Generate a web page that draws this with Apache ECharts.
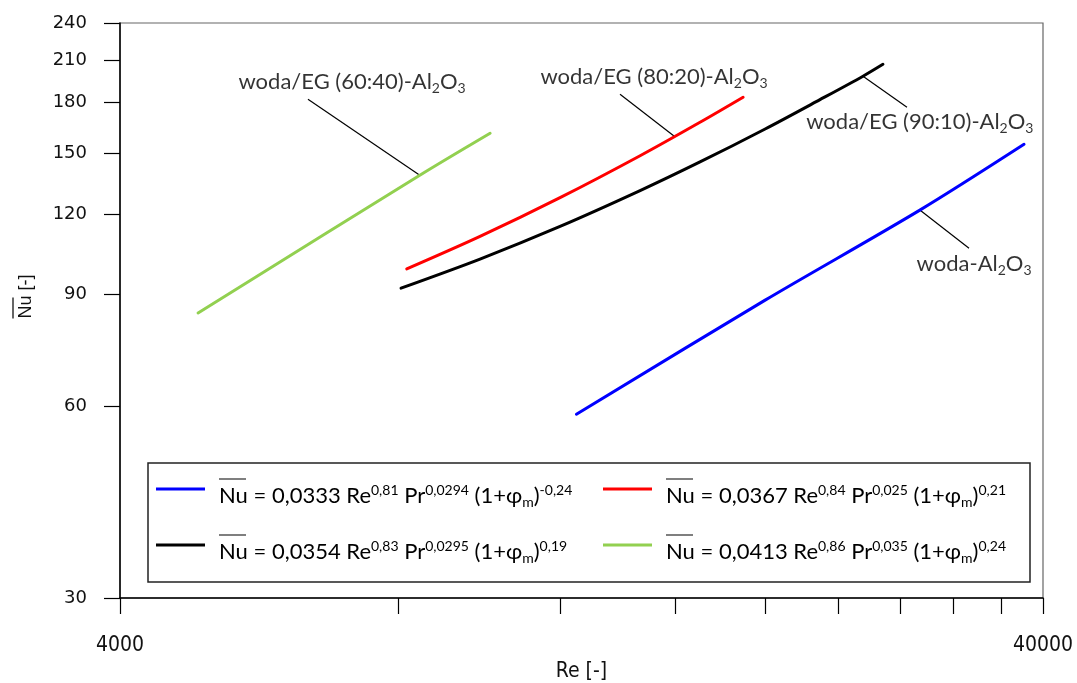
<!DOCTYPE html>
<html><head><meta charset="utf-8">
<script src="https://cdn.jsdelivr.net/npm/echarts@6/dist/echarts.min.js"></script>
<style>html,body{margin:0;padding:0;background:#fff}#c{width:1077px;height:683px}</style>
</head><body><div id="c"></div>
<script>
// ---- data ----
const seriesNames = ['woda-Al2O3', 'woda/EG (80:20)-Al2O3', 'woda/EG (90:10)-Al2O3', 'woda/EG (60:40)-Al2O3'];
const seriesColors = ['#0000ff', '#ff0000', '#000000', '#92d050'];
const reBlue = [12490, 20000, 29420, 38150];
const nuBlue = [58.3, 88.1, 122.0, 154.8];
const reRed = [8180, 9820, 11990, 14640, 17000, 18930];
const nuRed = [98.6, 110.9, 127.6, 148.5, 167.6, 183.5];
const reBlack = [8064, 9820, 11990, 14640, 17000, 20000, 22930, 25530, 26830];
const nuBlack = [92.0, 102.2, 115.0, 130.9, 145.2, 163.6, 181.9, 198.0, 206.7];
const reGreen = [4860, 8450, 10070];
const nuGreen = [84.1, 138.4, 161.1];
// legend formula parts
const coefC = ['0,0333', '0,0367', '0,0354', '0,0413'];
const expRe = ['0,81', '0,84', '0,83', '0,86'];
const expPr = ['0,0294', '0,025', '0,0295', '0,035'];
const expPhi = ['-0,24', '0,21', '0,19', '0,24'];
// axis ticks
const xTicks = [4000, 8000, 12000, 16000, 20000, 24000, 28000, 32000, 36000, 40000];
const xLabels = [4000, 40000];
const yTicks = [30, 60, 90, 120, 150, 180, 210, 240];
// annotations (label anchor and leader lines, in data units)
const annLabelPos = [[33680, 100.3], [15157, 197.3], [29420, 167.6], [7137, 193.7]];
const leaderFrom = [[29420, 122.0], [15930, 159.5], [25530, 198.0], [8450, 138.4]];
const leaderTo = [[33260, 106.3], [13925, 185.5], [28490, 177.0], [6393, 182.2]];

const fam = 'Lato, "Open Sans", sans-serif';
const reArr = [reBlue, reRed, reBlack, reGreen];
const nuArr = [nuBlue, nuRed, nuBlack, nuGreen];

function zip(a, b) { return a.map((v, i) => [v, b[i]]); }
function richName(n) {
  const base = n.replace('-Al2O3', '');
  return '{a|' + base + '-Al}{s|2}{a|O}{s|3}';
}
function formula(i) {
  return '{ol| }{pad| }\n{t|Nu = ' + coefC[i] + ' Re}{sup|' + expRe[i] + '}{t| Pr}{sup|' + expPr[i] +
    '}{t| (1+φ}{sub|m}{t|)}{sup|' + expPhi[i] + '}';
}

const series = seriesNames.map((n, i) => ({
  name: n, type: 'line', data: zip(reArr[i], nuArr[i]), showSymbol: false, symbol: 'none',
  smooth: 0.3, lineStyle: { color: seriesColors[i], width: 3, cap: 'round' }, itemStyle: { color: seriesColors[i] },
  silent: true, z: 3
}));
series.push({
  name: 'leaders', type: 'lines', coordinateSystem: 'cartesian2d', silent: true, z: 2,
  lineStyle: { color: '#000', width: 1.2, opacity: 1 },
  data: leaderFrom.map((p, i) => ({ coords: [p, leaderTo[i]] }))
});
series.push({
  name: 'labels', type: 'scatter', symbolSize: 0, silent: true, z: 4,
  data: annLabelPos.map((p, i) => ({ value: p, name: seriesNames[i] })),
  label: {
    show: true, position: 'inside', formatter: p => richName(p.name),
    rich: {
      a: { fontFamily: fam, fontSize: 22, color: '#000', lineHeight: 26 },
      s: { fontFamily: fam, fontSize: 14, color: '#000', lineHeight: 16, verticalAlign: 'bottom' }
    }
  }
});

const option = {
  animation: false,
  backgroundColor: '#fff',
  grid: { left: 120, right: 34, top: 23, bottom: 85, show: true, borderColor: '#666', borderWidth: 1.2, outerBoundsMode: 'none' },
  xAxis: {
    type: 'log', logBase: 10, min: 4000, max: 40000,
    name: 'Re [-]', nameLocation: 'middle', nameGap: 63,
    nameTextStyle: { fontFamily: '"DejaVu Sans Condensed", "Liberation Sans Narrow", sans-serif', fontSize: 21, color: '#111' },
    axisLine: { show: true, lineStyle: { color: '#000', width: 1.5 } },
    axisTick: { show: true, inside: false, length: 16, customValues: xTicks, lineStyle: { color: '#000', width: 1.2 } },
    minorTick: { show: false },
    axisLabel: { show: true, margin: 37, customValues: xLabels, formatter: v => String(Math.round(v)),
      fontFamily: '"DejaVu Sans Condensed", "Liberation Sans Narrow", sans-serif', fontSize: 21, color: '#111' },
    splitLine: { show: false }
  },
  yAxis: {
    type: 'log', logBase: 10, min: 30, max: 240,
    name: '{ol| }\n{t|Nu [-]}', nameLocation: 'middle', nameRotate: 90, nameGap: 84,
    nameTextStyle: {
      padding: [0, 0, 0, 28],
      rich: {
        ol: { width: 21, height: 1.5, backgroundColor: '#333', align: 'left', lineHeight: 6 },
        t: { fontFamily: '"Liberation Sans", Arial, sans-serif', fontSize: 18, color: '#111', lineHeight: 20 }
      }
    },
    axisLine: { show: true, lineStyle: { color: '#000', width: 1.5 } },
    axisTick: { show: true, inside: false, length: 16, customValues: yTicks, lineStyle: { color: '#000', width: 1.2 } },
    minorTick: { show: false },
    axisLabel: { show: true, margin: 33, customValues: yTicks, formatter: v => String(Math.round(v)),
      fontFamily: '"DejaVu Sans", Verdana, sans-serif', fontSize: 18, color: '#111' },
    splitLine: { show: false }
  },
  legend: {
    data: seriesNames.slice(), left: 148, top: 463, width: 880, orient: 'horizontal',
    padding: [10, 0, 17, 8], itemGap: 20, itemWidth: 49, itemHeight: 3, icon: 'rect',
    borderColor: '#222', borderWidth: 1.5, backgroundColor: '#fff', selectedMode: false,
    formatter: name => formula(seriesNames.indexOf(name)),
    textStyle: {
      padding: [6, 0, 0, 9],
      rich: {
        ol: { width: 27, height: 1.5, backgroundColor: '#555', lineHeight: 8 },
        pad: { width: 337, height: 1, lineHeight: 8 },
        t: { fontFamily: fam, fontSize: 22, color: '#000', lineHeight: 26 },
        sup: { fontFamily: fam, fontSize: 14, color: '#000', lineHeight: 16, verticalAlign: 'top' },
        sub: { fontFamily: fam, fontSize: 14, color: '#000', lineHeight: 18, verticalAlign: 'bottom' }
      }
    }
  },
  series: series
};
const chart = echarts.init(document.getElementById('c'));
chart.setOption(option);
</script>
</body></html>
